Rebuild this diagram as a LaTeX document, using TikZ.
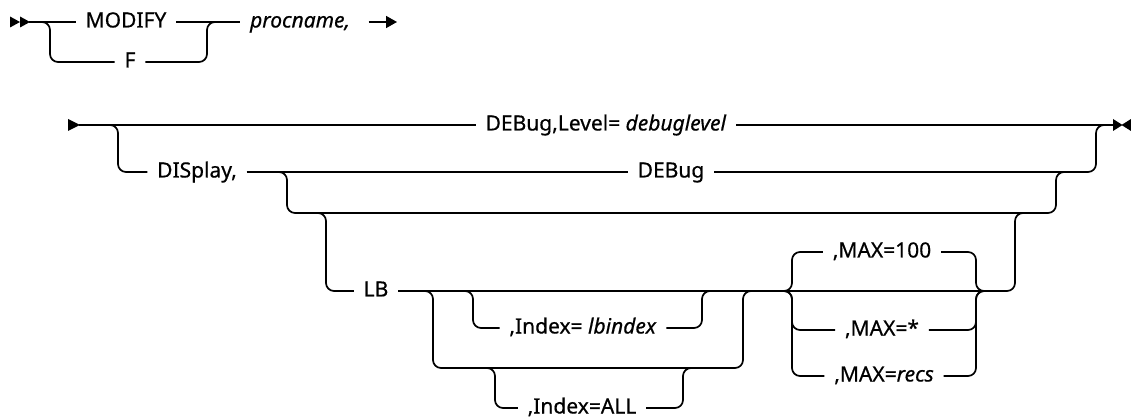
\documentclass[tikz,border=0pt]{standalone}
\usepackage{fontspec}
\setmainfont{Noto Sans}[FakeBold=0.6]
\usetikzlibrary{arrows.meta}
\begin{document}
\begin{tikzpicture}[x=1pt,y=-1pt,
  line width=1.7pt,
  rc/.style={rounded corners=8pt},
  lbl/.style={font=\fontsize{21}{25}\selectfont, inner xsep=9pt, inner ysep=0pt,
              text height=17pt, text depth=6pt},
  tip/.style={fill=black}]
\useasboundingbox (0,0) rectangle (1131,419);
% ---------- row 1 ----------
\fill (10,16.5) -- (20,22) -- (10,27.5) -- cycle;
\fill (20,16.5) -- (30,22) -- (20,27.5) -- cycle;
\coordinate (s1) at (29,22);
\node[lbl] (modify) at (126,22) {MODIFY};
\node[lbl] (f) at (130,62) {F};
\node[lbl] (procname) at (300,22) {\itshape procname,};
\draw (s1) -- (modify.west);
\draw[rc] (40,22) -- (50,22) -- (50,62) -- (f.west);
\draw[rc] (f.east) -- (207,62) -- (207,22) -- (217,22);
\draw (modify.east) -- (procname.west);
\coordinate (a1) at (397,22);
\draw[-{Triangle[length=11pt,width=12pt]}] ([xshift=9pt]procname.east) -- (a1);
% ---------- row 2 ----------
\fill (68,119) -- (80,125) -- (68,131) -- cycle;
\coordinate (s2) at (79,125);
\node[lbl] (dbl) at (606,125) {DEBug,Level= \textit{debuglevel}};
\draw (s2) -- (dbl.west);
\draw (dbl.east) -- (1114,125);
\fill (1113,119) -- (1122.5,125) -- (1113,131) -- cycle;
\fill (1131,119) -- (1121.5,125) -- (1131,131) -- cycle;
\node[lbl] (disp) at (197,172) {DISplay,};
\draw[rc] (108,125) -- (118,125) -- (118,172) -- (disp.west);
\node[lbl] (debug) at (671,172) {DEBug};
\draw (disp.east) -- (debug.west);
\draw[rc] (debug.east) -- (1096,172) -- (1096,125) -- (1106,125);
% ---------- row 3 ----------
\draw[rc] (277,172) -- (287,172) -- (287,213) -- (1056,213) -- (1056,172) -- (1066,172);
\node[lbl] (lb) at (376,291) {LB};
\draw[rc] (316,213) -- (326,213) -- (326,291) -- (lb.west);
\draw[rc] (lb.east) -- (1015,291) -- (1015,213) -- (1025,213);
% Index group
\draw[rc] (423,291) -- (433,291) -- (433,368) -- (743,368) -- (743,291) -- (753,291);
\node[lbl] (idx) at (583,328) {,Index= \textit{lbindex}};
\draw[rc] (463,291) -- (473,291) -- (473,328) -- (idx.west);
\draw[rc] (idx.east) -- (702,328) -- (702,291) -- (712,291);
\node[lbl] (all) at (582,408) {,Index=ALL};
\draw[rc] (485,368) -- (495,368) -- (495,408) -- (all.west);
\draw[rc] (all.east) -- (683,408) -- (683,368) -- (693,368);
% MAX group
\node[lbl] (m100) at (882,252) {,MAX=100};
\node[lbl] (mstar) at (882,330) {,MAX=*};
\node[lbl] (mrecs) at (884,376) {,MAX=\textit{recs}};
\draw[rc] (782,291) -- (792,291) -- (792,252) -- (m100.west);
\draw[rc] (m100.east) -- (976,252) -- (976,291) -- (986,291);
\draw[rc] (782,291) -- (792,291) -- (792,330) -- (mstar.west);
\draw[rc] (mstar.east) -- (976,330) -- (976,291) -- (986,291);
\draw[rc] (782,291) -- (792,291) -- (792,376) -- (mrecs.west);
\draw[rc] (mrecs.east) -- (976,376) -- (976,291) -- (986,291);
\end{tikzpicture}
\end{document}
